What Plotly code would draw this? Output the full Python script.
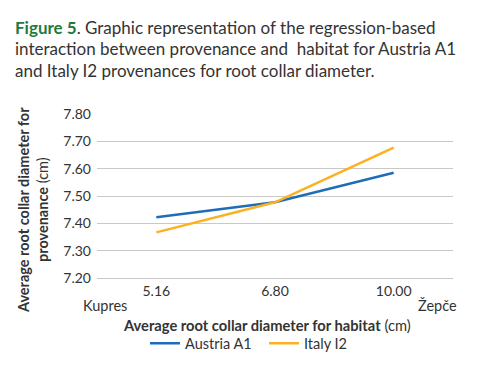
import plotly.graph_objects as go

categories = ["5.16", "6.80", "10.00"]
austria_a1 = [7.422, 7.477, 7.585]
italy_i2 = [7.367, 7.477, 7.677]
y_ticks = [7.20, 7.30, 7.40, 7.50, 7.60, 7.70, 7.80]

OFF = 8  # browser body margin
W, H = 490 - OFF, 384 - OFF
L, R, T, B = 97 - OFF, 453 - OFF, 113.5 - OFF, 278.3 - OFF

def px(x):
    return (x - OFF - L) / (R - L)

def py(y):
    return (B - (y - OFF)) / (B - T)

FONT = "Lato, 'Noto Sans', sans-serif"
TXT = "#333333"

fig = go.Figure()
fig.add_trace(go.Scatter(x=categories, y=austria_a1, mode="lines", name="Austria A1",
                         line=dict(color="#1F6DB8", width=2.5)))
fig.add_trace(go.Scatter(x=categories, y=italy_i2, mode="lines", name="Italy I2",
                         line=dict(color="#FDB022", width=2.5)))

ann = []
title_lines = [
    ("<b><span style='color:#1E7B3C'>Figure 5</span></b>. Graphic representation of the regression-based", 27),
    ("interaction between provenance and  habitat for Austria A1", 48),
    ("and Italy I2 provenances for root collar diameter.", 70),
]
for t, yy in title_lines:
    ann.append(dict(text=t, x=px(13), y=py(yy), xref="paper", yref="paper",
                    xanchor="left", yanchor="middle", showarrow=False,
                    font=dict(family=FONT, size=17, color=TXT)))
ann.append(dict(text="<b>Average root collar diameter for</b>", x=px(23), y=py(210),
                xref="paper", yref="paper", xanchor="center", yanchor="middle",
                textangle=-90, showarrow=False, font=dict(family=FONT, size=14.5, color=TXT)))
ann.append(dict(text="<b>provenance</b> (cm)", x=px(42), y=py(210),
                xref="paper", yref="paper", xanchor="center", yanchor="middle",
                textangle=-90, showarrow=False, font=dict(family=FONT, size=14.5, color=TXT)))
ann.append(dict(text="<b>Average root collar diameter for habitat</b> (cm)", x=px(267), y=py(326),
                xref="paper", yref="paper", xanchor="center", yanchor="middle",
                showarrow=False, font=dict(family=FONT, size=14.7, color=TXT)))
ann.append(dict(text="Kupres", x=px(105), y=py(306), xref="paper", yref="paper",
                xanchor="center", yanchor="middle", showarrow=False,
                font=dict(family=FONT, size=14.5, color=TXT)))
ann.append(dict(text="Žepče", x=px(437), y=py(306), xref="paper", yref="paper",
                xanchor="center", yanchor="middle", showarrow=False,
                font=dict(family=FONT, size=14.5, color=TXT)))

fig.update_layout(
    width=W, height=H, autosize=False,
    margin=dict(l=L, r=W - R, t=T, b=H - B),
    paper_bgcolor="white", plot_bgcolor="white",
    font=dict(family=FONT, size=13, color=TXT),
    showlegend=True,
    legend=dict(orientation="h", x=px(145), y=py(344), xanchor="left", yanchor="middle",
                font=dict(family=FONT, size=14.5, color=TXT), itemwidth=30,
                entrywidth=74, entrywidthmode="pixels",
                tracegroupgap=0, bgcolor="rgba(0,0,0,0)"),
    annotations=ann,
    xaxis=dict(type="category", range=[-0.5, 2.5], showgrid=False, zeroline=False,
               showline=True, linecolor="#C8C8C8", linewidth=1, ticks="",
               ticklabelstandoff=0,
               tickfont=dict(family=FONT, size=14, color=TXT)),
    yaxis=dict(range=[7.2, 7.8], tickvals=y_ticks, tickformat=".2f", showgrid=True,
               gridcolor="#C8C8C8", gridwidth=1, zeroline=False, showline=False,
               ticks="", ticklabelstandoff=5,
               tickfont=dict(family=FONT, size=14, color=TXT)),
)

fig.write_html("out.html")
